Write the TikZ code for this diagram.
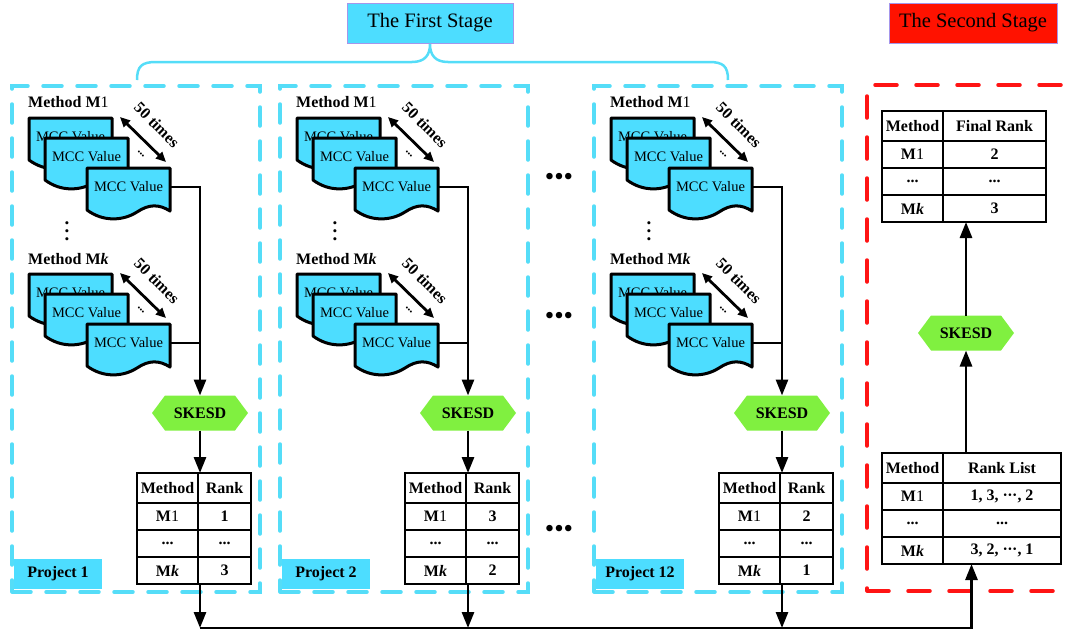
\documentclass[tikz,border=0pt]{standalone}
\usepackage{fontspec}
\setmainfont{Liberation Serif}
\usetikzlibrary{arrows.meta,calc}

\definecolor{cyfill}{RGB}{77,221,255}
\definecolor{cyline}{RGB}{85,221,248}
\definecolor{skgreen}{RGB}{128,240,64}
\definecolor{stred}{RGB}{255,18,0}
\definecolor{dashred}{RGB}{255,20,20}
\definecolor{stborder}{RGB}{165,150,235}

\newcommand\mone{{\mdseries 1}}
\newcommand\mk{\textit{k}}
\newcommand\mdots{\textperiodcentered\kern-0.5pt\textperiodcentered\kern-0.5pt\textperiodcentered}

\tikzset{
 conn/.style={line width=2.8pt, draw=black},
 arr/.style={conn, -{Triangle[length=16pt,width=12pt]}},
 twoway/.style={line width=2.8pt, {Triangle[length=10pt,width=9pt]}-{Triangle[length=10pt,width=9pt]}},
 doctext/.style={font=\fontsize{14.5}{14.5}\selectfont, inner sep=0},
 bold15/.style={font=\bfseries\fontsize{16}{16}\selectfont},
 cell/.style={draw, line width=2.6pt, inner sep=0, outer sep=0, bold15},
 tblframe/.style={inner sep=0, outer sep=0, minimum height=111pt},
 hexlabel/.style={font=\bfseries\fontsize{16}{16}\selectfont, minimum width=96pt, minimum height=35pt, inner sep=0, outer sep=0},
 projbox/.style={draw=cyline, line width=3.5pt, dash pattern=on 19pt off 15pt, line cap=round, minimum width=248pt, minimum height=506pt, inner sep=0},
 redbox/.style={draw=dashred, line width=3.5pt, dash pattern=on 22pt off 19pt, line cap=round, minimum width=213pt, minimum height=506pt, inner sep=0},
 projlabel/.style={fill=cyfill, bold15, minimum width=88pt, minimum height=30pt, inner sep=0},
 stagebox/.style={draw=stborder, line width=1pt, minimum width=166pt, minimum height=40pt, font=\fontsize{20.5}{20.5}\selectfont, inner sep=0},
 bracestyle/.style={draw=cyline, line width=2.5pt},
 dotsstyle/.style={font=\fontsize{27}{27}\selectfont, inner sep=0},
 pics/mccdoc/.style={code={
   \draw[line width=3pt, fill=cyfill, line join=round] (0,0) -- (83,0) -- (83,43) .. controls (72,36) and (62,36) .. (50,44) .. controls (36,53) and (16,54) .. (0,42) -- cycle;
   \node[doctext] (-t) at (41.5,19) {MCC Value};
   \coordinate (-r) at (83,19);
 }},
}

\newcommand\skesd[3]{%
 \fill[skgreen, shift={(#2,#3)}] (-48,0) -- (-35,-17.5) -- (35,-17.5) -- (48,0) -- (35,17.5) -- (-35,17.5) -- cycle;
 \node[hexlabel] (#1) at (#2,#3) {SKESD};}

\newcommand\rtable[8]{%
 \node[tblframe, minimum width=#4pt+#5pt, anchor=north west] (#1) at (#2,#3) {};
 \node[cell, minimum width=#4pt, minimum height=30pt, anchor=north west] (#1-a0) at (#2,#3) {Method};
 \node[cell, minimum width=#5pt, minimum height=30pt, anchor=north west] (#1-b0) at (#1-a0.north east) {#6};
 \node[cell, minimum width=#4pt, minimum height=27pt, anchor=north west] (#1-a1) at (#1-a0.south west) {M\mone};
 \node[cell, minimum width=#5pt, minimum height=27pt, anchor=north west] (#1-b1) at (#1-a1.north east) {#7};
 \node[cell, minimum width=#4pt, minimum height=27pt, anchor=north west] (#1-a2) at (#1-a1.south west) {...};
 \node[cell, minimum width=#5pt, minimum height=27pt, anchor=north west] (#1-b2) at (#1-a2.north east) {...};
 \node[cell, minimum width=#4pt, minimum height=27pt, anchor=north west] (#1-a3) at (#1-a2.south west) {M\mk};
 \node[cell, minimum width=#5pt, minimum height=27pt, anchor=north west] (#1-b3) at (#1-a3.north east) {#8};
}

\newcommand\projgroup[5]{%
\begin{scope}[xshift=#1pt]
 \node[projbox] (p#2box) at (136,339) {};
 \node[projlabel] (p#2lab) at (58,574) {#3};
 \node[bold15, anchor=west, inner sep=0] (p#2ma) at (28,102) {Method M\mone};
 \pic (p#2a1) at (29,118) {mccdoc};
 \pic (p#2a2) at (45,138) {mccdoc};
 \pic (p#2a3) at (87,168) {mccdoc};
 \coordinate (p#2at) at (120,117);
 \coordinate (p#2ah) at (166,162);
 \draw[twoway] (p#2at) -- (p#2ah);
 \node[bold15, rotate=-45, inner sep=0] (p#2an) at (157,125) {50 times};
 \node[font=\bfseries\fontsize{12}{12}\selectfont, rotate=-45, inner sep=0] (p#2ad) at (141,154) {...};
 \node[font=\bfseries\fontsize{19}{8}\selectfont, align=center, inner sep=0] (p#2vd) at (67,231) {.\\.\\.};
 \node[bold15, anchor=west, inner sep=0] (p#2mb) at (28,259) {Method M\mk};
 \pic (p#2b1) at (29,274) {mccdoc};
 \pic (p#2b2) at (45,294) {mccdoc};
 \pic (p#2b3) at (87,324) {mccdoc};
 \coordinate (p#2bt) at (120,273);
 \coordinate (p#2bh) at (166,318);
 \draw[twoway] (p#2bt) -- (p#2bh);
 \node[bold15, rotate=-45, inner sep=0] (p#2bn) at (157,281) {50 times};
 \node[font=\bfseries\fontsize{12}{12}\selectfont, rotate=-45, inner sep=0] (p#2bd) at (141,310) {...};
 \skesd{p#2sk}{200}{413}
 \rtable{p#2t}{137}{473}{61}{53}{Rank}{#4}{#5}
 \coordinate (p#2bot) at (200,628);
 \draw[arr] (p#2a3-r) -| (p#2sk.north);
 \draw[conn] (p#2b3-r) -- (p#2b3-r -| p#2sk.north);
 \draw[arr] (p#2sk.south) -- (p#2sk.south |- p#2t.north);
 \draw[arr] (p#2sk.south |- p#2t.south) -- (p#2bot);
\end{scope}}

\begin{document}
\begin{tikzpicture}[x=1pt,y=-1pt]
\useasboundingbox (0,0) rectangle (1068,632);

% stage titles
\node[stagebox, fill=cyfill] (st1) at (430,23) {The First Stage};
\node[stagebox, fill=stred, minimum width=168pt] (st2) at (973,23) {The Second Stage};
\draw[bracestyle] (137,80) .. controls (137,66) and (142,62) .. (156,62) -- (412,62)
  .. controls (425,62) and (430,55) .. (430,44)
  .. controls (430,55) and (435,62) .. (448,62) -- (709,62)
  .. controls (723,62) and (728,66) .. (728,80);

\projgroup{0}{1}{Project 1}{1}{3}
\projgroup{268}{2}{Project 2}{3}{2}
\projgroup{582}{12}{Project 12}{2}{1}

\node[dotsstyle] (dotsa) at (559,179) {•••};
\node[dotsstyle] (dotsb) at (559,318) {•••};
\node[dotsstyle] (dotsc) at (559,531) {•••};

% second stage
\node[redbox] (s2box) at (973.5,338) {};
\rtable{fr}{882}{111}{61}{103}{Final Rank}{2}{3}
\skesd{sk2}{966}{333}
\rtable{rl}{882}{453}{61}{118}{Rank List}{1, 3, \mdots, 2}{3, 2, \mdots, 1}
\draw[arr] (sk2.south |- rl.north) -- (sk2.south);
\draw[arr] (sk2.north) -- (sk2.north |- fr.south);
\draw[arr] (p1bot) -| (rl.south);
\end{tikzpicture}
\end{document}
